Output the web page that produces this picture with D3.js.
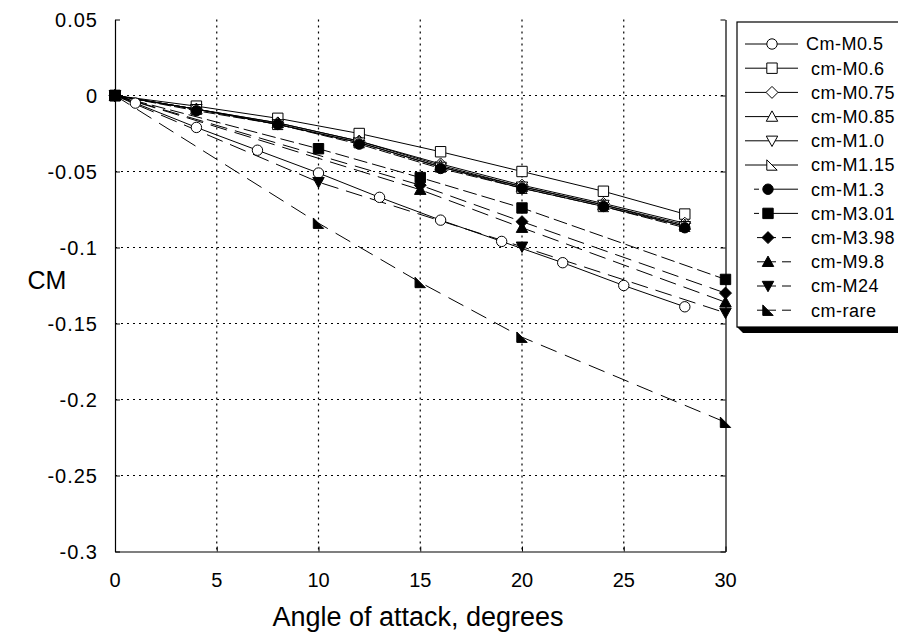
<!DOCTYPE html>
<html>
<head>
<meta charset="utf-8">
<script src="https://cdn.jsdelivr.net/npm/d3@7"></script>
<style>
  html, body { margin: 0; padding: 0; background: #fff; }
  svg { display: block; font-family: "Liberation Sans", Arial, sans-serif; }
</style>
</head>
<body>
<svg id="chart" width="898" height="641"></svg>
<script>
// Pitching-moment coefficient vs. angle of attack for a range of Mach numbers

// Tick labels
const xTicks = [0, 5, 10, 15, 20, 25, 30];
const yTicks = [0.05, 0, -0.05, -0.1, -0.15, -0.2, -0.25, -0.3];

// Angles of attack (degrees)
const alphaM05 = [0, 1, 4, 7, 10, 13, 16, 19, 22, 25, 28];
const alphaSub = [0, 4, 8, 12, 16, 20, 24, 28];
const alphaM301 = [0, 10, 15, 20, 30];
const alphaM398 = [0, 15, 20, 30];
const alphaM98 = [0, 15, 20, 30];
const alphaM24 = [0, 10, 20, 30];
const alphaRare = [0, 10, 15, 20, 30];

// Cm values
const cmM05 = [0, -0.005, -0.021, -0.036, -0.051, -0.067, -0.082, -0.096, -0.110, -0.125, -0.139];
const cmM06 = [0, -0.007, -0.015, -0.025, -0.037, -0.050, -0.063, -0.078];
const cmM075 = [0, -0.009, -0.018, -0.030, -0.045, -0.059, -0.071, -0.084];
const cmM085 = [0, -0.009, -0.018, -0.030, -0.046, -0.060, -0.072, -0.085];
const cmM10 = [0, -0.009, -0.019, -0.031, -0.047, -0.060, -0.072, -0.086];
const cmM115 = [0, -0.009, -0.019, -0.031, -0.047, -0.061, -0.073, -0.086];
const cmM13 = [0, -0.010, -0.019, -0.032, -0.048, -0.061, -0.073, -0.087];
const cmM301 = [0, -0.035, -0.054, -0.074, -0.121];
const cmM398 = [0, -0.059, -0.083, -0.130];
const cmM98 = [0, -0.062, -0.087, -0.136];
const cmM24 = [0, -0.057, -0.0995, -0.143];
const cmRare = [0, -0.084, -0.123, -0.159, -0.215];

// Series names
const seriesNames = ["Cm-M0.5", "cm-M0.6", "cm-M0.75", "cm-M0.85", "cm-M1.0", "cm-M1.15",
                     "cm-M1.3", "cm-M3.01", "cm-M3.98", "cm-M9.8", "cm-M24", "cm-rare"];

const series = [
  { name: seriesNames[0],  x: alphaM05,  y: cmM05,  marker: "circle",   filled: false, dash: null },
  { name: seriesNames[1],  x: alphaSub,  y: cmM06,  marker: "square",   filled: false, dash: null },
  { name: seriesNames[2],  x: alphaSub,  y: cmM075, marker: "diamond",  filled: false, dash: null },
  { name: seriesNames[3],  x: alphaSub,  y: cmM085, marker: "triUp",    filled: false, dash: null },
  { name: seriesNames[4],  x: alphaSub,  y: cmM10,  marker: "triDown",  filled: false, dash: null },
  { name: seriesNames[5],  x: alphaSub,  y: cmM115, marker: "rightTri", filled: false, dash: null },
  { name: seriesNames[6],  x: alphaSub,  y: cmM13,  marker: "circle",   filled: true,  dash: "12,3" },
  { name: seriesNames[7],  x: alphaM301, y: cmM301, marker: "square",   filled: true,  dash: "14,5" },
  { name: seriesNames[8],  x: alphaM398, y: cmM398, marker: "diamond",  filled: true,  dash: "17,8" },
  { name: seriesNames[9],  x: alphaM98,  y: cmM98,  marker: "triUp",    filled: true,  dash: "17,8" },
  { name: seriesNames[10], x: alphaM24,  y: cmM24,  marker: "triDown",  filled: true,  dash: "17,8" },
  { name: seriesNames[11], x: alphaRare, y: cmRare, marker: "rightTri", filled: true,  dash: "17,9" }
];

const svg = d3.select("#chart");
const plotLeft = 115, plotRight = 725.5, plotTop = 19.5, plotBottom = 551.5;

const x = d3.scaleLinear().domain([0, 30]).range([plotLeft, plotRight]);
const y = d3.scaleLinear().domain([0.05, -0.3]).range([plotTop, plotBottom]);

// Dotted grid
const grid = svg.append("g").attr("stroke", "#000").attr("stroke-width", 1.2)
  .attr("stroke-dasharray", "2,4");
grid.selectAll("line.gx").data(xTicks.slice(1, -1)).join("line").attr("class", "gx")
  .attr("x1", d => x(d)).attr("x2", d => x(d)).attr("y1", plotTop).attr("y2", plotBottom);
grid.selectAll("line.gy").data(yTicks.slice(1, -1)).join("line").attr("class", "gy")
  .attr("x1", plotLeft).attr("x2", plotRight).attr("y1", d => y(d)).attr("y2", d => y(d));

// Axes (ticks drawn inward)
const fmt = d => (d === 0 ? "0" : String(d));
const axL = svg.append("g").attr("transform", `translate(${plotLeft},0)`)
  .call(d3.axisRight(y).tickValues(yTicks).tickSize(5).tickSizeOuter(0).tickFormat(""));
const axR = svg.append("g").attr("transform", `translate(${plotRight},0)`)
  .call(d3.axisLeft(y).tickValues(yTicks).tickSize(5).tickSizeOuter(0).tickFormat(""));
const axB = svg.append("g").attr("transform", `translate(0,${plotBottom})`)
  .call(d3.axisTop(x).tickValues(xTicks).tickSize(5).tickSizeOuter(0).tickFormat(""));
[axL, axR, axB].forEach(a => {
  a.select(".domain").attr("stroke", "#000").attr("stroke-width", 1.2);
  a.selectAll(".tick line").attr("stroke", "#000");
});

// Tick labels
svg.append("g").selectAll("text").data(yTicks).join("text")
  .attr("x", 98).attr("y", d => y(d)).attr("dy", "0.36em")
  .attr("text-anchor", "end").attr("font-size", 20).attr("letter-spacing", 1)
  .attr("fill", "#000").text(fmt);
svg.append("g").selectAll("text").data(xTicks).join("text")
  .attr("x", d => x(d)).attr("y", 580).attr("dy", "0.36em")
  .attr("text-anchor", "middle").attr("font-size", 20)
  .attr("fill", "#000").text(fmt);

// Axis titles
svg.append("text").attr("x", 47).attr("y", 280).attr("dy", "0.36em")
  .attr("text-anchor", "middle").attr("font-size", 25).text("CM");
svg.append("text").attr("x", 418).attr("y", 616).attr("dy", "0.36em")
  .attr("text-anchor", "middle").attr("font-size", 27).text("Angle of attack, degrees");

// Marker shapes
function markerPath(type, s) {
  switch (type) {
    case "square": return `M${-s},${-s}H${s}V${s}H${-s}Z`;
    case "diamond": return `M0,${-s * 1.15}L${s * 1.15},0L0,${s * 1.15}L${-s * 1.15},0Z`;
    case "triUp": return `M0,${-s * 1.1}L${s * 1.1},${s * 0.9}L${-s * 1.1},${s * 0.9}Z`;
    case "triDown": return `M0,${s * 1.1}L${s * 1.1},${-s * 0.9}L${-s * 1.1},${-s * 0.9}Z`;
    case "rightTri": return `M${-s},${-s}L${s},${s}L${-s},${s}Z`;
    default: return null;
  }
}
function drawMarker(g, type, filled, cx, cy) {
  const s = 5.2;
  const fill = filled ? "#000" : "#fff";
  if (type === "circle") {
    g.append("circle").attr("cx", cx).attr("cy", cy).attr("r", s)
      .attr("fill", fill).attr("stroke", "#000").attr("stroke-width", 1);
  } else {
    g.append("path").attr("d", markerPath(type, s))
      .attr("transform", `translate(${cx},${cy})`)
      .attr("fill", fill).attr("stroke", "#000").attr("stroke-width", 1);
  }
}

// Series lines and markers
const line = d3.line().x(d => x(d[0])).y(d => y(d[1]));
const plot = svg.append("g");
series.forEach(s => {
  const pts = s.x.map((a, i) => [a, s.y[i]]);
  plot.append("path").datum(pts).attr("d", line)
    .attr("fill", "none").attr("stroke", "#000").attr("stroke-width", 1)
    .attr("stroke-dasharray", s.dash);
});
series.forEach(s => {
  const g = plot.append("g");
  s.x.forEach((a, i) => drawMarker(g, s.marker, s.filled, x(a), y(s.y[i])));
});

// Legend with drop shadow
const lgX = 737, lgY = 22, lgR = 903, lgB = 327, sh = 6;
svg.append("polygon")
  .attr("points", `${lgR},${lgY} ${lgR + sh},${lgY + sh} ${lgR + sh},${lgB + sh} ${lgX + sh},${lgB + sh} ${lgX},${lgB}`)
  .attr("fill", "#000");
svg.append("rect").attr("x", lgX).attr("y", lgY).attr("width", lgR - lgX).attr("height", lgB - lgY)
  .attr("fill", "#fff").attr("stroke", "#000").attr("stroke-width", 1.2);

const lg = svg.append("g");
series.forEach((s, i) => {
  const cy = 44 + i * 24.2;
  const row = lg.append("g");
  if (s.dash === null) {
    row.append("line").attr("x1", 745).attr("x2", 798).attr("y1", cy).attr("y2", cy)
      .attr("stroke", "#000").attr("stroke-width", 1);
  } else if (i <= 7) {
    row.append("line").attr("x1", 754).attr("x2", 759).attr("y1", cy).attr("y2", cy).attr("stroke", "#000");
    row.append("line").attr("x1", 765).attr("x2", 798).attr("y1", cy).attr("y2", cy).attr("stroke", "#000");
  } else {
    row.append("line").attr("x1", 757).attr("x2", 776).attr("y1", cy).attr("y2", cy).attr("stroke", "#000");
    row.append("line").attr("x1", 782).attr("x2", 791).attr("y1", cy).attr("y2", cy).attr("stroke", "#000");
  }
  drawMarker(row, s.marker, s.filled, s.dash === null ? 772 : 768, cy);
  row.append("text").attr("x", i === 0 ? 806 : 811).attr("y", cy).attr("dy", "0.36em")
    .attr("font-size", 18).attr("letter-spacing", 0.5).attr("fill", "#000").text(s.name);
});
</script>
</body>
</html>
